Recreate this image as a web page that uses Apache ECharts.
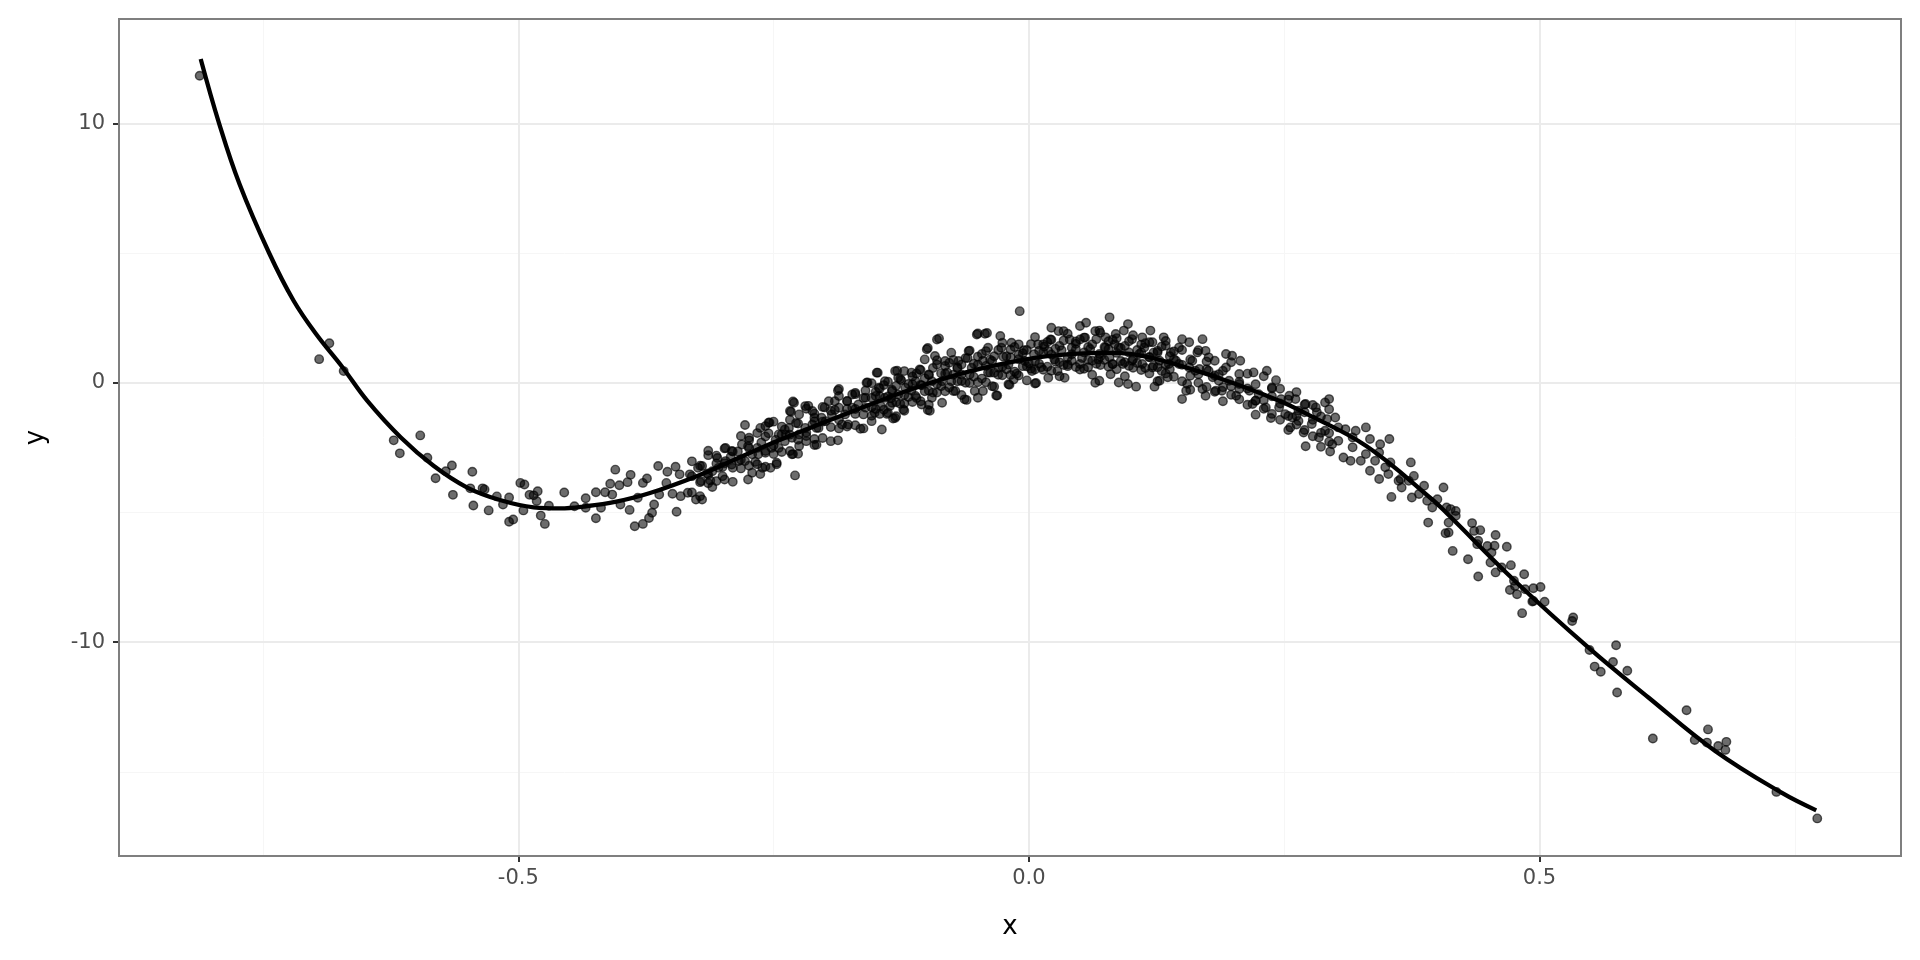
<!DOCTYPE html>
<html>
<head>
<meta charset="utf-8">
<script src="https://cdn.jsdelivr.net/npm/echarts@6/dist/echarts.min.js"></script>
<style>
html,body{margin:0;padding:0;background:#fff;}
#chart{width:1920px;height:960px;}
</style>
</head>
<body>
<div id="chart"></div>
<script>
// ---------- tick labels / gridlines ----------
const xTicks = [-0.5, 0, 0.5];
const xMinor = [-0.75, -0.25, 0.25, 0.75];
const yTicks = [-10, 0, 10];
const yMinor = [-15, -5, 5];

// ---------- fitted curve ----------
const curveX = [-0.811,-0.793,-0.773,-0.744,-0.720,-0.698,-0.672,-0.648,-0.615,-0.583,-0.550,-0.518,-0.485,-0.459,-0.436,-0.404,-0.371,-0.322,-0.290,-0.250,-0.200,-0.166,-0.117,-0.060,0.0,0.040,0.080,0.118,0.183,0.245,0.271,0.330,0.395,0.411,0.476,0.548,0.607,0.672,0.737,0.771];
const curveY = [12.48,10.0,7.66,5.0,3.16,1.88,0.59,-0.69,-2.11,-3.20,-4.04,-4.52,-4.80,-4.84,-4.77,-4.58,-4.25,-3.55,-3.0,-2.3,-1.52,-1.0,-0.28,0.42,0.92,1.10,1.15,0.98,0.22,-0.69,-1.18,-2.43,-4.50,-5.10,-7.64,-10.21,-12.14,-14.19,-15.80,-16.48];

// ---------- observed points ----------
const ptsLeftTail = [[-0.812,11.83],[-0.695,0.91],[-0.685,1.52],[-0.671,0.45]];

const ptsTrough = [[-0.622,-2.22],[-0.616,-2.72],[-0.596,-2.03],[-0.589,-2.89],[-0.581,-3.68],[-0.571,-3.41],[-0.565,-3.19],[-0.564,-4.32],[-0.545,-3.43],[-0.547,-4.07],[-0.544,-4.73],[-0.535,-4.07],[-0.533,-4.11],[-0.529,-4.92],[-0.521,-4.38],[-0.515,-4.69],[-0.509,-4.42],[-0.509,-5.36],[-0.505,-5.27],[-0.498,-3.86],[-0.494,-3.92],[-0.495,-4.92],[-0.489,-4.32],[-0.485,-4.34],[-0.481,-4.18],[-0.482,-4.56],[-0.478,-5.12],[-0.474,-5.44],[-0.470,-4.74],[-0.455,-4.23],[-0.445,-4.76],[-0.434,-4.45],[-0.434,-4.82],[-0.424,-5.22],[-0.424,-4.22],[-0.419,-4.82],[-0.415,-4.22],[-0.410,-3.89],[-0.408,-4.31],[-0.405,-3.35],[-0.401,-3.95],[-0.400,-4.69],[-0.393,-3.83],[-0.391,-4.90],[-0.390,-3.55],[-0.386,-5.53],[-0.383,-4.43],[-0.378,-5.44],[-0.378,-3.86],[-0.374,-3.69],[-0.372,-5.21],[-0.369,-5.01],[-0.367,-4.69],[-0.363,-3.21],[-0.362,-4.31],[-0.355,-3.86],[-0.354,-3.43],[-0.349,-4.28],[-0.346,-3.24],[-0.345,-4.97],[-0.342,-3.53],[-0.341,-4.37],[-0.334,-4.24],[-0.332,-3.53],[-0.326,-4.50],[-0.324,-3.28]];

const ptsRise = [[-0.320,-3.21],[-0.321,-3.79],[-0.320,-4.50],[-0.312,-3.77],[-0.310,-4.02],[-0.314,-2.79],[-0.300,-3.60],[-0.297,-2.51],[-0.291,-2.63],[-0.281,-2.38],[-0.278,-1.63],[-0.274,-2.12],[-0.275,-3.73],[-0.271,-3.47],[-0.263,-1.74],[-0.258,-1.67],[-0.255,-1.54],[-0.261,-3.28],[-0.253,-3.28],[-0.247,-3.08],[-0.245,-1.99],[-0.239,-1.80],[-0.235,-1.74],[-0.234,-1.09],[-0.230,-0.77],[-0.229,-3.57],[-0.232,-2.76],[-0.225,-2.44],[-0.225,-1.22],[-0.219,-0.90],[-0.212,-1.09],[-0.210,-2.40],[-0.208,-1.74],[-0.203,-1.35],[-0.196,-0.71],[-0.190,-0.71],[-0.187,-2.22],[-0.187,-0.30],[-0.183,-1.61],[-0.177,-1.61],[-0.173,-0.45],[-0.170,-0.39],[-0.165,-1.77],[-0.160,-0.58],[-0.159,0.00],[-0.154,-1.48],[-0.151,-1.16],[-0.149,0.39],[-0.144,-1.80],[-0.141,0.06],[-0.139,-1.20],[-0.136,-0.90],[-0.133,-1.38],[-0.131,0.45],[-0.128,0.19],[-0.123,-1.03],[-0.115,0.39],[-0.111,-0.51],[-0.107,0.51],[-0.105,-0.84],[-0.102,0.90],[-0.100,1.29],[-0.099,-1.05],[-0.095,-0.58],[-0.090,1.67],[-0.092,1.03],[-0.085,-0.77],[-0.082,0.84],[-0.076,1.16],[-0.072,-0.32],[-0.069,0.84],[-0.063,-0.64],[-0.059,1.22],[-0.053,-0.32],[-0.051,1.86],[-0.043,1.89],[-0.050,-0.58],[-0.045,-0.32],[-0.040,1.35],[-0.036,-0.13],[-0.032,-0.49],[-0.028,1.80],[-0.027,1.35],[-0.020,-0.06],[-0.017,1.54],[-0.015,0.13],[-0.009,2.76],
[-0.131,-1.36],[-0.122,-1.08],[-0.097,-1.08],[-0.061,-0.66],[-0.031,-0.49],[-0.019,-0.08],[0.007,-0.01],[-0.050,1.90],[-0.041,1.92],[-0.088,1.71],[-0.099,1.34],[-0.129,0.46],[-0.148,0.39],[-0.158,0.01],[-0.186,-0.24],[-0.231,-0.72],[-0.216,-0.89],[-0.254,-1.53],[-0.233,-1.12],[-0.208,-2.39],[-0.263,-3.52],[-0.247,-3.14],[-0.231,-2.75]];

const ptsBandLeft = [[-0.330,-3.03],[-0.330,-3.60],[-0.330,-4.23],[-0.322,-3.20],[-0.322,-3.83],[-0.322,-4.37],[-0.314,-2.62],[-0.314,-3.54],[-0.314,-3.87],[-0.306,-3.11],[-0.306,-3.79],[-0.306,-2.81],[-0.298,-2.53],[-0.298,-3.10],[-0.298,-3.73],[-0.290,-2.65],[-0.290,-3.28],[-0.290,-3.82],[-0.282,-2.05],[-0.282,-2.97],[-0.282,-3.30],[-0.274,-2.52],[-0.274,-3.20],[-0.274,-2.22],[-0.266,-1.94],[-0.266,-2.51],[-0.266,-3.14],[-0.258,-2.07],[-0.258,-2.70],[-0.258,-3.24],[-0.250,-1.50],[-0.250,-2.42],[-0.250,-2.75],[-0.242,-1.99],[-0.242,-2.67],[-0.242,-1.69],[-0.234,-1.43],[-0.234,-2.00],[-0.234,-2.63],[-0.226,-1.57],[-0.226,-2.20],[-0.226,-2.74],[-0.218,-1.00],[-0.218,-1.92],[-0.218,-2.25],[-0.210,-1.49],[-0.210,-2.17],[-0.210,-1.19],[-0.202,-0.93],[-0.202,-1.50],[-0.202,-2.13],[-0.194,-1.08],[-0.194,-1.71],[-0.194,-2.25],[-0.186,-0.51],[-0.186,-1.43],[-0.186,-1.76],[-0.178,-1.01],[-0.178,-1.69],[-0.178,-0.71],[-0.170,-0.44],[-0.170,-1.01],[-0.170,-1.64],[-0.162,-0.59],[-0.162,-1.22],[-0.162,-1.76],[-0.154,-0.02],[-0.154,-0.94],[-0.154,-1.27],[-0.146,-0.52],[-0.146,-1.20],[-0.146,-0.22],[-0.138,0.04],[-0.138,-0.53],[-0.138,-1.16],[-0.130,-0.12],[-0.130,-0.75],[-0.130,-1.29],[-0.122,0.45],[-0.122,-0.47],[-0.122,-0.80],[-0.114,-0.06],[-0.114,-0.74],[-0.114,0.24],[-0.106,0.49],[-0.106,-0.08],[-0.106,-0.71],[-0.098,0.32],[-0.098,-0.31],[-0.098,-0.85],[-0.090,0.87],[-0.090,-0.05],[-0.090,-0.38],[-0.082,0.35],[-0.082,-0.33],[-0.082,0.65],[-0.074,0.88],[-0.074,0.31],[-0.074,-0.32],[-0.066,0.70],[-0.066,0.07],[-0.066,-0.47],[-0.058,1.24],[-0.058,0.32],[-0.058,-0.01],[-0.050,0.70],[-0.050,0.02],[-0.050,1.00],[-0.042,1.22],[-0.042,0.65],[-0.042,0.02],[-0.034,1.02],[-0.034,0.39],[-0.034,-0.15],[-0.026,1.54],[-0.026,0.62],[-0.026,0.29],[-0.018,0.98],[-0.018,0.30],[-0.018,1.28],[-0.010,1.48],[-0.010,0.91],[-0.010,0.28],[-0.002,1.26],[-0.002,0.63],[-0.002,0.09],
[-0.010,1.09],[-0.004,0.84],[-0.030,0.58],[-0.036,0.84],[-0.056,0.58],[-0.066,0.32],[-0.076,0.06],[-0.085,0.06],[-0.095,0.06],[-0.111,0.06],[-0.121,-0.19],[-0.128,-0.45],[-0.134,-0.32],[-0.141,-0.58],[-0.147,-0.19],[-0.154,-0.58],[-0.160,-0.96],[-0.167,-0.84],[-0.173,-0.96],[-0.180,-1.22],[-0.186,-0.96],[-0.193,-1.22],[-0.199,-1.48],[-0.206,-1.74],[-0.212,-1.61],[-0.219,-1.74],[-0.225,-1.99],[-0.232,-2.12],[-0.239,-2.25],[-0.245,-2.51],[-0.252,-2.51],[-0.258,-2.63],[-0.265,-2.76],[-0.271,-2.76],[-0.278,-3.02],[-0.284,-3.02],[-0.291,-3.15],[-0.297,-3.02],[-0.304,-3.28],[-0.310,-3.41],
[-0.045,0.85],[-0.040,0.40],[-0.025,1.00],[-0.020,0.70],[-0.012,0.35],[-0.060,0.95],[-0.070,0.60],[-0.080,0.40],[-0.090,0.70],[-0.098,0.30],[-0.105,-0.10],[-0.115,-0.30],[-0.125,0.10],[-0.135,-0.60],[-0.145,-0.90],[-0.150,-0.35],[-0.160,-0.30],[-0.170,-1.20],[-0.178,-0.70],[-0.190,-1.05],[-0.200,-0.95],[-0.210,-1.35],[-0.218,-2.05],[-0.228,-1.55],[-0.238,-2.00],[-0.248,-2.20],[-0.255,-1.95],[-0.262,-2.30],[-0.268,-3.05],[-0.275,-2.45],[-0.285,-2.65],[-0.292,-2.85],[-0.300,-3.25],[-0.305,-2.90],[-0.315,-3.50],
[-0.150,-0.51],[-0.150,-1.01],[-0.142,-0.09],[-0.142,-1.04],[-0.134,-0.27],[-0.134,-0.77],[-0.126,0.14],[-0.126,-0.81],[-0.118,-0.05],[-0.118,-0.55],[-0.110,0.36],[-0.110,-0.59],[-0.102,0.17],[-0.102,-0.33],[-0.094,0.57],[-0.094,-0.38],[-0.086,0.37],[-0.086,-0.13],[-0.078,0.77],[-0.078,-0.18],[-0.070,0.56],[-0.070,0.06],[-0.062,0.95],[-0.062,0.00],[-0.054,0.73],[-0.054,0.23],[-0.046,1.11],[-0.046,0.16],[-0.038,0.89],[-0.038,0.39],[-0.030,1.26],[-0.030,0.31],[-0.022,1.02],[-0.022,0.52],[-0.014,1.38],[-0.014,0.43],[-0.006,1.14],[-0.006,0.64]];

const ptsPeak = [[0.003,0.45],[0.006,-0.03],[0.009,1.48],[0.019,0.19],[0.022,2.12],[0.021,1.67],[0.029,1.99],[0.034,1.99],[0.035,0.19],[0.040,1.67],[0.050,0.51],[0.050,2.19],[0.056,2.31],[0.055,1.74],[0.065,1.99],[0.065,0.00],[0.019,1.22],
[-0.005,1.25],[0.000,0.75],[0.005,1.10],[0.012,0.60],[0.015,1.40],[0.025,0.90],[0.028,0.45],[0.032,1.25],[0.038,0.70],[0.042,1.10],[0.046,1.50],[0.052,0.95],[0.058,0.60],[0.060,1.30],[0.068,0.90],
[0.079,2.52],[0.097,2.26],[0.119,2.01],[0.170,1.68],[0.069,2.01],[0.075,1.75],[0.085,1.88],[0.093,2.01],[0.101,1.68],[0.111,1.75],[0.121,1.56],[0.132,1.75],[0.134,1.43],[0.150,1.68],[0.157,1.56],[0.147,1.36],[0.139,1.17],[0.165,1.17],[0.173,1.23],[0.176,0.98],[0.193,1.11],[0.199,1.04],[0.207,0.85],[0.220,0.40],[0.233,0.46],[0.242,0.10],[0.069,0.08],[0.080,0.33],[0.088,0.01],[0.097,-0.05],[0.105,-0.15],[0.123,-0.15],[0.128,0.08],[0.136,0.21],[0.150,-0.63],[0.154,-0.31],[0.155,-0.05],[0.170,-0.24],[0.173,-0.50],[0.183,-0.31],[0.189,-0.31],[0.203,-0.50],[0.206,-0.24],[0.219,-0.82],[0.222,-0.69],
[0.069,1.11],[0.079,0.98],[0.088,1.36],[0.098,1.17],[0.108,1.11],[0.118,0.98],[0.128,0.85],[0.137,0.72],[0.147,0.72],[0.157,0.59],[0.167,0.53],[0.176,0.46],[0.186,0.33],[0.196,0.08],[0.206,-0.05],[0.216,-0.31],[0.225,-0.44],[0.082,0.72],[0.092,0.72],[0.111,0.72],[0.101,0.85],[0.121,0.59],[0.075,1.36],[0.084,1.49],[0.113,1.36],[0.126,1.17],[0.144,0.85],[0.160,0.85],[0.163,0.46],[0.180,0.21],[0.186,0.08],[0.193,0.59]];

const ptsBandRight = [[0.006,1.76],[0.006,0.84],[0.006,0.51],[0.014,1.18],[0.014,0.50],[0.014,1.48],[0.022,1.66],[0.022,1.09],[0.022,0.46],[0.030,1.42],[0.030,0.79],[0.030,0.25],[0.038,1.89],[0.038,0.97],[0.038,0.64],[0.046,1.29],[0.046,0.61],[0.046,1.59],[0.054,1.74],[0.054,1.17],[0.054,0.54],[0.062,1.48],[0.062,0.85],[0.062,0.31],[0.070,1.93],[0.070,1.01],[0.070,0.68],[0.078,1.30],[0.078,0.62],[0.078,1.60],[0.086,1.72],[0.086,1.15],[0.086,0.52],[0.094,1.42],[0.094,0.79],[0.094,0.25],[0.102,1.83],[0.102,0.91],[0.102,0.58],[0.110,1.17],[0.110,0.49],[0.110,1.47],[0.118,1.56],[0.118,0.99],[0.118,0.36],[0.126,1.23],[0.126,0.60],[0.126,0.06],[0.134,1.61],[0.134,0.69],[0.134,0.36],[0.142,0.91],[0.142,0.23],[0.142,1.21],[0.150,1.26],[0.150,0.69],[0.150,0.06],[0.158,0.90],[0.158,0.27],[0.158,-0.27],[0.166,1.25],[0.166,0.33],[0.166,0.00],[0.174,0.52],[0.174,-0.16],[0.174,0.82],[0.182,0.85],[0.182,0.28],[0.182,-0.35],[0.190,0.46],[0.190,-0.17],[0.190,-0.71],[0.198,0.79],[0.198,-0.13],[0.198,-0.46],[0.206,0.04],[0.206,-0.64],[0.206,0.34],[0.214,0.35],[0.214,-0.22],[0.214,-0.85],[0.222,-0.06],[0.222,-0.69],[0.222,-1.23],[0.230,0.25],[0.230,-0.67],[0.230,-1.00],[0.238,-0.52],[0.238,-1.20],[0.238,-0.22],[0.246,-0.23],[0.246,-0.80],[0.246,-1.43],[0.254,-0.65],[0.254,-1.28],[0.254,-1.82],[0.262,-0.36],[0.262,-1.28],[0.262,-1.61],[0.270,-1.14],[0.270,-1.82],[0.270,-0.84],[0.278,-0.86],[0.278,-1.43],[0.278,-2.06],[0.286,-1.30],[0.286,-1.93],[0.286,-2.47],[0.294,-1.02],[0.294,-1.94],[0.294,-2.27],
[0.002,1.49],[0.002,0.54],[0.010,1.23],[0.010,0.73],[0.018,1.57],[0.018,0.62],[0.026,1.31],[0.026,0.81],[0.034,1.63],[0.034,0.68],[0.042,1.35],[0.042,0.85],[0.050,1.67],[0.050,0.72],[0.058,1.38],[0.058,0.88],[0.066,1.68],[0.066,0.73],[0.074,1.38],[0.074,0.88],[0.082,1.66],[0.082,0.71],[0.090,1.34],[0.090,0.84],[0.098,1.60],[0.098,0.65],[0.106,1.26],[0.106,0.76],[0.114,1.52],[0.114,0.57],[0.122,1.16],[0.122,0.66],[0.130,1.40],[0.130,0.45],[0.138,1.02],[0.138,0.52]];

const ptsFall = [[0.232,-0.95],[0.237,-1.36],[0.238,-0.18],[0.247,-0.63],[0.255,-0.50],[0.256,-1.72],[0.261,-0.63],[0.264,-1.08],[0.271,-0.82],[0.271,-2.45],[0.269,-1.92],[0.281,-0.95],[0.282,-1.14],[0.294,-0.63],[0.290,-0.76],[0.284,-2.11],[0.292,-1.40],[0.300,-1.34],[0.297,-2.37],[0.295,-2.65],[0.303,-1.72],[0.310,-1.79],[0.308,-2.88],[0.317,-2.11],[0.320,-1.85],[0.315,-3.01],[0.325,-3.01],[0.330,-1.72],[0.334,-2.17],[0.334,-3.39],[0.344,-2.37],[0.343,-3.71],[0.343,-2.69],[0.353,-2.17],[0.354,-3.07],[0.352,-3.52],[0.355,-4.40],[0.364,-3.71],[0.365,-4.04],[0.374,-3.07],[0.375,-4.42],[0.377,-3.59],[0.387,-3.97],[0.390,-4.55],[0.391,-5.39],[0.400,-4.49],[0.406,-4.04],[0.408,-5.80],[0.409,-4.81],
[0.245,-0.95],[0.251,-1.21],[0.258,-1.34],[0.264,-1.47],[0.277,-1.59],[0.290,-1.85],[0.303,-2.24],[0.317,-2.49],[0.330,-2.75],[0.339,-3.01],[0.349,-3.26],[0.362,-3.78],[0.372,-3.78],[0.382,-4.29],[0.395,-4.81]];

const ptsRightTail = [[0.413,-4.87],[0.418,-4.94],[0.418,-5.13],[0.411,-5.39],[0.411,-5.77],[0.415,-6.48],[0.430,-6.80],[0.434,-5.41],[0.436,-5.71],[0.442,-5.68],[0.439,-6.22],[0.440,-6.09],[0.449,-6.29],[0.457,-5.87],[0.456,-6.28],[0.453,-6.54],[0.452,-6.93],[0.468,-6.32],[0.463,-7.12],[0.457,-7.31],[0.440,-7.47],[0.472,-7.03],[0.485,-7.38],[0.475,-7.63],[0.476,-7.83],[0.471,-7.99],[0.478,-8.15],[0.486,-7.96],[0.494,-7.92],[0.501,-7.87],[0.493,-8.43],[0.494,-8.41],[0.505,-8.44],[0.483,-8.88],[0.533,-9.05],[0.532,-9.18],[0.549,-10.30],[0.554,-10.94],[0.560,-11.14],[0.575,-10.12],[0.572,-10.76],[0.586,-11.10],[0.576,-11.94],[0.644,-12.62],[0.611,-13.71],[0.652,-13.77],[0.665,-13.36],[0.664,-13.87],[0.675,-14.00],[0.683,-13.84],[0.682,-14.15],[0.732,-15.77],[0.772,-16.79]];

const allPoints = [].concat(ptsLeftTail, ptsTrough, ptsRise, ptsBandLeft, ptsPeak, ptsBandRight, ptsFall, ptsRightTail);
const curveData = curveX.map((x, i) => [x, curveY[i]]);

const X_MIN = -0.891, X_MAX = 0.854, Y_MIN = -18.24, Y_MAX = 14.02;
const GRID = {left: 119, top: 19, right: 19, bottom: 104};

const majorColor = '#EBEBEB', minorColor = '#F6F6F6';
const gridMarks = []
  .concat(xMinor.map(v => ({xAxis: v, lineStyle: {color: minorColor, width: 1, type: 'solid'}})))
  .concat(yMinor.map(v => ({yAxis: v, lineStyle: {color: minorColor, width: 1, type: 'solid'}})))
  .concat(xTicks.map(v => ({xAxis: v, lineStyle: {color: majorColor, width: 2, type: 'solid'}})))
  .concat(yTicks.map(v => ({yAxis: v, lineStyle: {color: majorColor, width: 2, type: 'solid'}})));

const chart = echarts.init(document.getElementById('chart'), null, {renderer: 'canvas'});
const FONT = 'DejaVu Sans';
chart.setOption({
  animation: false,
  backgroundColor: '#ffffff',
  grid: Object.assign({show: false, containLabel: false}, GRID),
  xAxis: {
    type: 'value', min: X_MIN, max: X_MAX,
    name: 'x', nameLocation: 'middle', nameGap: 58,
    nameTextStyle: {color: '#000', fontSize: 26, fontFamily: FONT},
    axisLine: {show: false, onZero: false},
    splitLine: {show: false},
    axisTick: {show: true, customValues: xTicks, length: 6, lineStyle: {color: '#333333', width: 2}},
    axisLabel: {customValues: xTicks, formatter: v => v.toFixed(1), color: '#4D4D4D', fontSize: 21, fontFamily: FONT, margin: 12}
  },
  yAxis: {
    type: 'value', min: Y_MIN, max: Y_MAX,
    name: 'y', nameLocation: 'middle', nameGap: 70, nameRotate: 90,
    nameTextStyle: {color: '#000', fontSize: 26, fontFamily: FONT},
    axisLine: {show: false, onZero: false},
    splitLine: {show: false},
    axisTick: {show: true, customValues: yTicks, length: 6, lineStyle: {color: '#333333', width: 2}},
    axisLabel: {customValues: yTicks, formatter: v => String(v), color: '#4D4D4D', fontSize: 21, fontFamily: FONT, margin: 14}
  },
  graphic: [{
    type: 'rect', z: 100, silent: true,
    shape: {x: GRID.left, y: GRID.top, width: 1920 - GRID.left - GRID.right, height: 960 - GRID.top - GRID.bottom},
    style: {fill: 'none', stroke: '#7F7F7F', lineWidth: 2}
  }],
  series: [
    {
      type: 'line', data: [], z: 1, silent: true,
      markLine: {z: 1, silent: true, symbol: ['none', 'none'], label: {show: false}, emphasis: {disabled: true}, animation: false, data: gridMarks}
    },
    {
      type: 'scatter', data: allPoints, z: 3, symbol: 'circle', symbolSize: 8.5, silent: true,
      itemStyle: {color: 'rgba(0,0,0,0.72)', borderColor: 'rgba(0,0,0,0.8)', borderWidth: 1.4}
    },
    {
      type: 'line', data: curveData, z: 4, smooth: 0.4, showSymbol: false, silent: true,
      lineStyle: {color: '#000000', width: 4.3}
    }
  ]
});
</script>
</body>
</html>
